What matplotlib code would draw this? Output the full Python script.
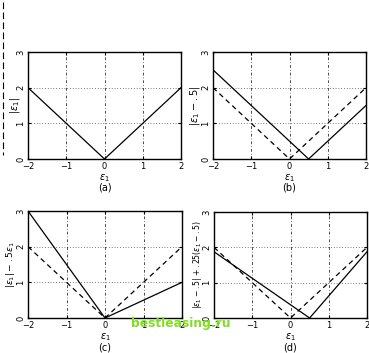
import matplotlib
matplotlib.use("Agg")
import matplotlib.pyplot as plt
from matplotlib.lines import Line2D

# breakpoints of the piecewise linear curves
x_v = [-2, 0, 2]
y_abs = [2, 0, 2]                 # |e1|
x_shift = [-2, 0.5, 2]
y_shift = [2.5, 0, 1.5]           # |e1 - .5|
y_asym = [3, 0, 1]                # |e1| - .5 e1
y_both = [1.875, 0, 1.875]        # |e1 - .5| + .25(e1 - .5)

xticks = [-2, -1, 0, 1, 2]
yticks = [0, 1, 2, 3]

W, H = 369, 353
fig = plt.figure(figsize=(W / 100, H / 100), dpi=100)

panels = [
    # left, top, right, bottom in pixels; solid curve; dashed?; ylabel; label x, size; tag
    ((28, 52, 181, 159), (x_v, y_abs), False, r"$|\epsilon_1|$", -0.085, 7, "(a)"),
    ((213, 52, 366, 159), (x_shift, y_shift), True, r"$|\epsilon_1 - .5|$", -0.115, 7, "(b)"),
    ((28, 211, 182, 318), (x_v, y_asym), True, r"$|\epsilon_1| - .5\epsilon_1$", -0.115, 6.5, "(c)"),
    ((214, 212, 367, 318), (x_shift, y_both), True,
     r"$|\epsilon_1 - .5| + .25(\epsilon_1 - .5)$", -0.11, 5.6, "(d)"),
]

for (l, t, r, b), (xs, ys), dashed, ylab, lx, lsize, tag in panels:
    ax = fig.add_axes([l / W, 1 - b / H, (r - l) / W, (b - t) / H])
    # faint dash-dot grid like the scan
    for gx in [-1, 0, 1]:
        ax.axvline(gx, color="black", lw=0.5, ls=(0, (4, 3, 1, 3)), zorder=1)
    for gy in [1, 2]:
        ax.axhline(gy, color="black", lw=0.5, ls=(0, (1, 3)), zorder=1)
    if dashed:
        ax.plot(x_v, y_abs, color="black", lw=0.9, ls=(0, (4, 3)), zorder=2)
    ax.plot(xs, ys, color="black", lw=0.9, zorder=3)
    ax.set_xlim(-2, 2)
    ax.set_ylim(0, 3)
    ax.set_xticks(xticks)
    ax.set_yticks(yticks)
    ax.set_xticklabels(["\u22122", "\u22121", "0", "1", "2"])
    ax.tick_params(direction="in", length=2.5, width=0.8, labelsize=6, pad=2,
                   top=True, right=True)
    for lab in ax.get_yticklabels():
        lab.set_rotation(90)
        lab.set_va("center")
    for s in ax.spines.values():
        s.set_linewidth(1.0)
    ax.set_xlabel(r"$\epsilon_1$", fontsize=7, labelpad=1)
    ax.set_ylabel(ylab, fontsize=lsize, va="center")
    ax.yaxis.set_label_coords(lx, 0.5)
    fig.text((l + r) / 2 / W, 1 - (b + 29) / H, tag, ha="center", va="center",
             fontsize=7)

# scan artifact: broken line along the left edge
fig.add_artist(Line2D([3 / W, 3 / W], [1 - 2 / H, 1 - 155 / H], color="black",
                      lw=0.8, ls=(0, (6, 3))))

# watermark
fig.text(181 / W, 1 - 324 / H, "bestleasing.ru", ha="center", va="center",
         fontsize=8.8, fontweight="bold", color="#7ee01e")

fig.savefig("out.png", dpi=100)
